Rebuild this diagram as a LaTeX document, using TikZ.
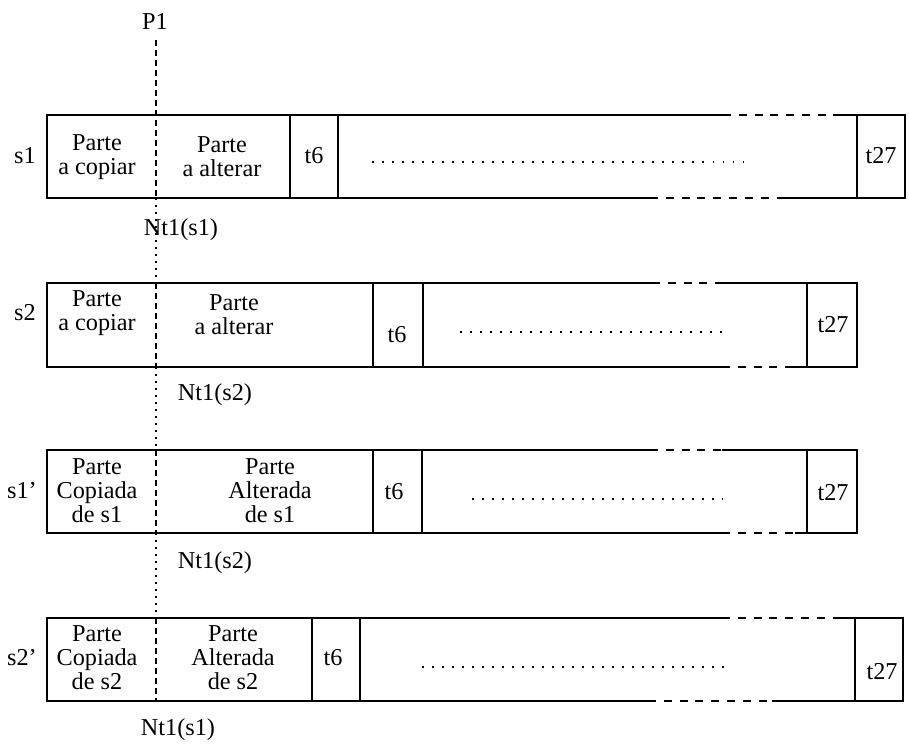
\documentclass[tikz,border=0pt]{standalone}
\usepackage{fontspec}
\setmainfont{Liberation Serif}
\begin{document}
\begin{tikzpicture}[x=0.02cm,y=-0.02cm,
  lbl/.style={font=\fontsize{13.8}{13.7}\selectfont, inner sep=0pt, align=center},
  edge/.style={line width=0.9pt},
  gapdash/.style={line width=0.9pt, dash pattern=on 4.5pt off 4.5pt},
  cutdash/.style={line width=0.8pt, dash pattern=on 3.5pt off 2.2pt},
  cutdot/.style={line width=1pt, dash pattern=on 1pt off 3pt},
  filldots/.style={line width=1.1pt, dash pattern=on 1pt off 4.7pt}]
\useasboundingbox (0,0) rectangle (909,749);

% rows: top/bottom/right/div2/div3/div4/topgapA/topgapB/botgapA/botgapB/dotsy/dotsx1/dotsx2
\foreach \T/\B/\R/\da/\db/\dc/\ta/\tb/\ba/\bb/\dy/\xa/\xb in {
  115/198/905/290/338/857/723/833/650/783/162/372/748,
  283/367/857/373/423/807/652/722/722/793/332/460/723,
  450/533/857/373/422/807/650/722/722/795/499/472/723,
  618/701/903/312/360/855/722/833/648/772/667/422/728}{
  \draw[edge] (\ta,\T) -- (47,\T) -- (47,\B) -- (\ba,\B);
  \draw[edge] (\tb,\T) -- (\R,\T) -- (\R,\B) -- (\bb,\B);
  \draw[gapdash] (\ta,\T) -- (\tb,\T);
  \draw[gapdash] (\ba,\B) -- (\bb,\B);
  \draw[edge] (\da,\T) -- (\da,\B);
  \draw[edge] (\db,\T) -- (\db,\B);
  \draw[edge] (\dc,\T) -- (\dc,\B);
  \draw[filldots] (\xa,\dy) -- (\xb,\dy);
}

% cut line P1
\node[lbl] (P1) at (155,22) {P1};
\coordinate (c0) at (156,40);
\coordinate (c1) at (156,198);
\coordinate (c2) at (156,283);
\coordinate (c3) at (156,367);
\coordinate (c4) at (156,450);
\coordinate (c5) at (156,533);
\coordinate (c6) at (156,618);
\coordinate (c7) at (156,701);
\draw[cutdash] (c0) -- (c1);
\draw[cutdot] (c1) -- (c2);
\draw[cutdash] (c2) -- (c3);
\draw[cutdot] (c3) -- (c4);
\draw[cutdash] (c4) -- (c5);
\draw[cutdot] (c5) -- (c6);
\draw[cutdash] (c6) -- (c7);

% row s1
\node[lbl] (s1) at (25,156) {s1};
\node[lbl] (s1a) at (97,157) {Parte\\a copiar};
\node[lbl] (s1b) at (222,157) {Parte\\a alterar};
\node[lbl] (s1c) at (314,156) {t6};
\node[lbl] (s1d) at (881,156) {t27};
\node[lbl] (n1) at (181,230) {Nt1(s1)};

% row s2
\node[lbl] (s2) at (25,313) {s2};
\node[lbl] (s2a) at (97,313) {Parte\\a copiar};
\node[lbl] (s2b) at (234,315) {Parte\\a alterar};
\node[lbl] (s2c) at (397,335) {t6};
\node[lbl] (s2d) at (833,325) {t27};
\node[lbl] (n2) at (215,395) {Nt1(s2)};

% row s1'
\node[lbl] (s3) at (22,491) {s1’};
\node[lbl] (s3a) at (97,491) {Parte\\Copiada\\de s1};
\node[lbl] (s3b) at (270,491) {Parte\\Alterada\\de s1};
\node[lbl] (s3c) at (394,492) {t6};
\node[lbl] (s3d) at (833,493) {t27};
\node[lbl] (n3) at (215,563) {Nt1(s2)};

% row s2'
\node[lbl] (s4) at (22,658) {s2’};
\node[lbl] (s4a) at (97,658) {Parte\\Copiada\\de s2};
\node[lbl] (s4b) at (233,658) {Parte\\Alterada\\de s2};
\node[lbl] (s4c) at (333,658) {t6};
\node[lbl] (s4d) at (882,672) {t27};
\node[lbl] (n4) at (178,730) {Nt1(s1)};
\end{tikzpicture}
\end{document}
